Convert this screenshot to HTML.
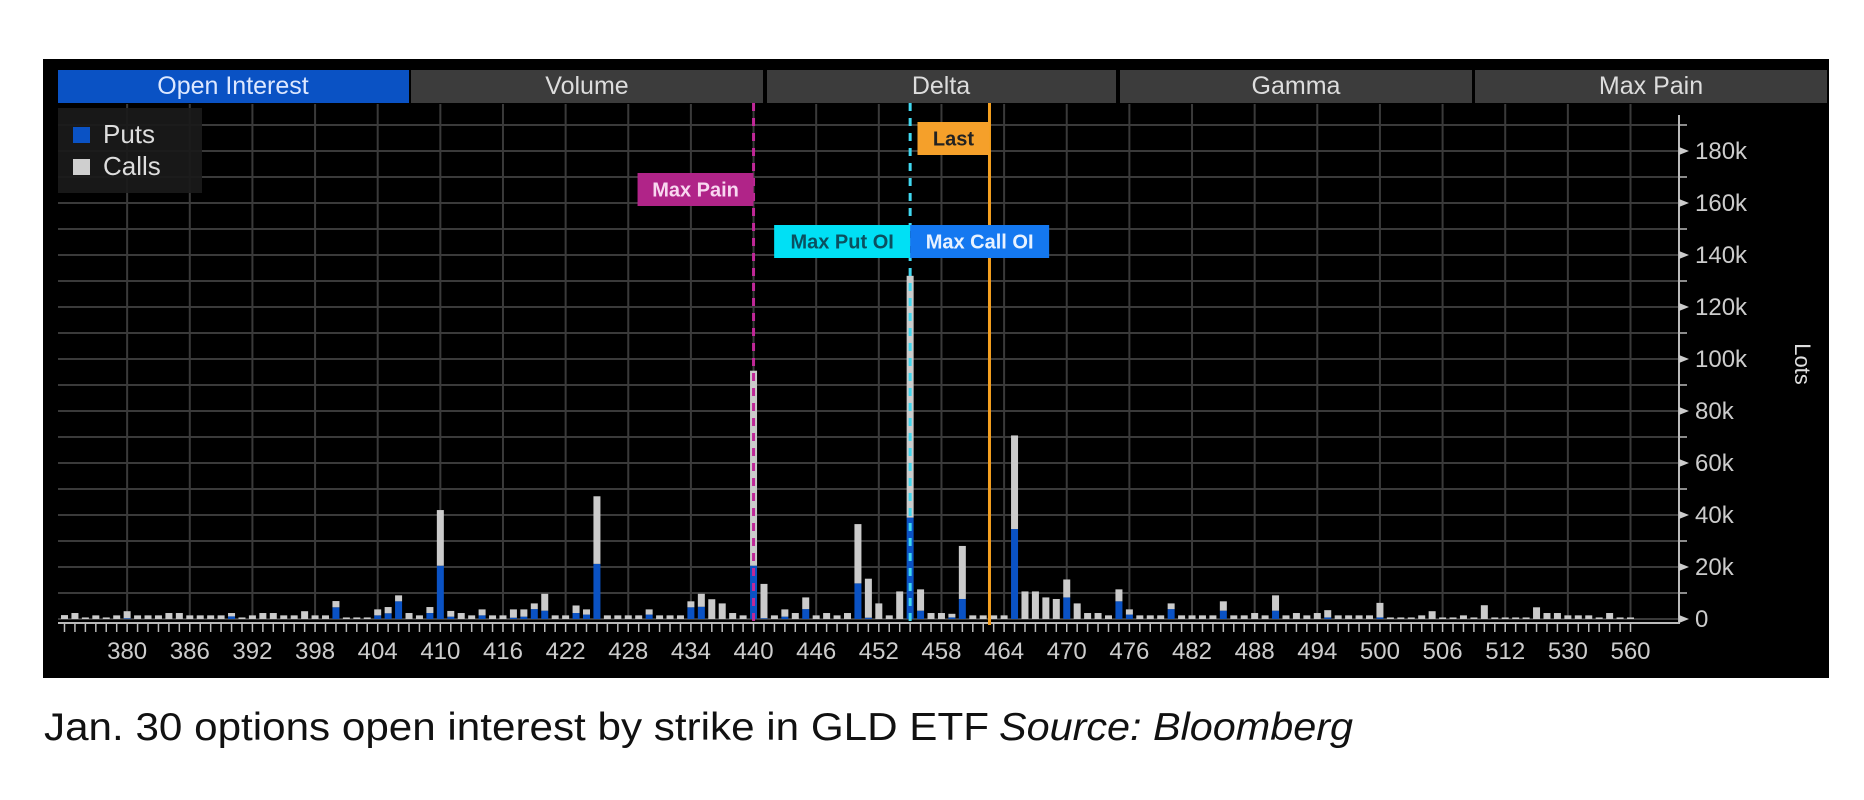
<!DOCTYPE html>
<html><head><meta charset="utf-8">
<style>
html,body{margin:0;padding:0;background:#fff;}
svg{display:block;}
text{font-family:"Liberation Sans Narrow","Liberation Sans",sans-serif;}
</style></head>
<body>
<svg id="chart" width="1864" height="800" viewBox="0 0 1864 800" xmlns="http://www.w3.org/2000/svg">
<rect x="0" y="0" width="1864" height="800" fill="#fff"/>
<rect x="43" y="59" width="1786" height="619" fill="#000"/>
<g id="tabs">
 <rect x="58" y="70" width="351" height="33" fill="#0a52c4"/>
 <text x="233" y="94" fill="#dde8ff" font-size="25" text-anchor="middle">Open Interest</text>
 <rect x="411" y="70" width="352" height="33" fill="#3c3c3c"/>
 <text x="587" y="94" fill="#ddd" font-size="25" text-anchor="middle">Volume</text>
 <rect x="767" y="70" width="349" height="33" fill="#3c3c3c"/>
 <text x="941" y="94" fill="#ddd" font-size="25" text-anchor="middle">Delta</text>
 <rect x="1120" y="70" width="352" height="33" fill="#3c3c3c"/>
 <text x="1296" y="94" fill="#ddd" font-size="25" text-anchor="middle">Gamma</text>
 <rect x="1475" y="70" width="352" height="33" fill="#3c3c3c"/>
 <text x="1651" y="94" fill="#ddd" font-size="25" text-anchor="middle">Max Pain</text>
</g>
<g id="grid"></g>
<g id="bars"></g>
<g id="axes"></g>
<g id="markers"></g>
<g>
 <rect x="58" y="108" width="144" height="85" fill="#1a1a1a" opacity="0.92"/>
 <rect x="73" y="127" width="17" height="16" fill="#0a52c4"/>
 <text x="103" y="143" fill="#ddd" font-size="26">Puts</text>
 <rect x="73" y="159" width="17" height="16" fill="#cfcfcf"/>
 <text x="103" y="175" fill="#ddd" font-size="26">Calls</text>
</g>
<text transform="translate(1795,364) rotate(90)" fill="#ddd" font-size="22" text-anchor="middle">Lots</text>
<text x="44" y="740" fill="#111" font-size="39" style="font-family:'Liberation Sans',sans-serif" textLength="945" lengthAdjust="spacingAndGlyphs">Jan. 30 options open interest by strike in GLD ETF</text>
<text x="999" y="740" fill="#111" font-size="39" font-style="italic" style="font-family:'Liberation Sans',sans-serif" textLength="354" lengthAdjust="spacingAndGlyphs">Source: Bloomberg</text>
</svg>
<script>
const strikes = [];
for (let s = 374; s <= 512; s++) strikes.push(s);
strikes.push(513,514,515,520,525,530,535,540,545,550,555,560);
const puts = [0,0,0,0,0,0,0.3,0,0,0,0,0,0,0,0,0,1,0,0,0,0,0,0,0,0,0,4.5,0,0,0,1.4,2.2,6.8,0,0,2.3,20.5,0.9,0,0,1.4,0,0,0.5,
0.9,3.8,3.2,0,0,2.3,1.7,21.2,0,0,0,0,1.7,0,0,0,4.5,4.7,0,0,0,0,20.5,0.3,0,0.9,0,3.8,0,0,0,0,13.7,0.5,0,0,0,39,3.2,0,0,0.6,7.7,0,0,0,
0,34.6,0,0,0,0,8.3,0,0,0,0,6.8,1.7,0,0,0,3.8,0,0,0,0,3.2,0,0,0,0,3.2,0,0,0,0,0.6,0,0,0,0,0.6,0,0,0,0,0,0,0,0,0,0,0,0,0,0,0,0,0,0,0,0,0,0,0,0];
const calls = [1.5,2.3,0.6,1.4,0.6,1.4,2.7,1.4,1.4,1.4,2.3,2.3,1.4,1.4,1.4,1.4,1.3,0.6,1.4,2.3,2.3,1.4,1.4,3,1.4,1.4,2.4,0.6,0.6,0.6,2.3,2.4,2.3,2.3,1.4,2.3,21.4,2.2,2.3,1.4,2.3,1.4,1.4,3.2,
2.8,2.2,6.5,1.4,1.4,2.9,2,26,1.4,1.4,1.4,1.4,2,1.4,1.4,1.4,2.3,5,7.6,6,2.3,1.4,75,13.2,1.4,2.8,2.3,4.5,1.4,2.3,1.4,2.3,22.8,15,6,1.4,10.6,93,8.2,2.3,2.3,1.4,20.4,1.4,1.4,1.4,
1.4,36,10.6,10.6,8.3,7.7,6.9,6,2.3,2.3,1.4,4.6,2,1.4,1.4,1.4,2.2,1.4,1.4,1.4,1.4,3.6,1.4,1.4,2.3,1.4,5.9,1.4,2.3,1.4,2.3,2.8,1.4,1.4,1.4,1.4,5.6,0.6,0.6,0.6,1.4,3,0.6,0.6,1.4,0.6,5.3,0.6,0.6,0.6,0.6,4.5,2.3,2.3,1.4,1.4,1.4,0.6,2.3,0.6,0.6];
const xTickLabels = [380,386,392,398,404,410,416,422,428,434,440,446,452,458,464,470,476,482,488,494,500,506,512,530,560];
const yTicks = [0,20,40,60,80,100,120,140,160,180];
const maxPainStrike = 440, maxPutStrike = 455, maxCallStrike = 455, lastPrice = 462.6;

const NS = 'http://www.w3.org/2000/svg';
const X0 = 64.5, STEP = 10.44, Y0 = 619, PXK = 2.6, TOP = 104, RIGHT = 1679;
function xIdx(i){ return X0 + i*STEP; }
function xStrike(s){
  let i = strikes.indexOf(s);
  if (i >= 0) return xIdx(i);
  for (let k=0;k<strikes.length-1;k++){
    if (s>strikes[k] && s<strikes[k+1]) return xIdx(k + (s-strikes[k])/(strikes[k+1]-strikes[k]));
  }
  return xIdx(0);
}
function y(v){ return Y0 - v*PXK; }
function mk(tag, attrs, parent){
  const e = document.createElementNS(NS, tag);
  for (const k in attrs) e.setAttribute(k, attrs[k]);
  parent.appendChild(e); return e;
}
const grid = document.getElementById('grid');
for (let v=0; v<=190; v+=10){
  const l = mk('line',{x1:58,x2:RIGHT,y1:y(v),y2:y(v),stroke:'#3a3a3a','stroke-width':2},grid);
  
  
}
xTickLabels.forEach(s=>{
  const l = mk('line',{x1:xStrike(s),x2:xStrike(s),y1:TOP,y2:Y0,stroke:'#3a3a3a','stroke-width':2},grid);
  
  
});
const bars = document.getElementById('bars');
strikes.forEach((s,i)=>{
  const cx = xIdx(i), w = 7;
  const p = puts[i]||0, c = calls[i]||0;
  if (p>0){
    const r = mk('rect',{x:cx-w/2,y:y(p),width:w,height:p*PXK,fill:'#0a52c4'},bars);
    
    
  }
  if (c>0){
    const r = mk('rect',{x:cx-w/2,y:y(p+c),width:w,height:c*PXK,fill:'#cbcbcb'},bars);
    
    
  }
});
const axes = document.getElementById('axes');
let a = mk('line',{x1:58,x2:RIGHT,y1:623,y2:623,stroke:'#bbb','stroke-width':2},axes);


a = mk('line',{x1:RIGHT,x2:RIGHT,y1:115,y2:624,stroke:'#bbb','stroke-width':2},axes);


strikes.forEach((s,i)=>{
  const t = mk('line',{x1:xIdx(i),x2:xIdx(i),y1:623,y2:632,stroke:'#bbb','stroke-width':1.5},axes);
  
  
});
xTickLabels.forEach(s=>{
  const t = mk('text',{x:xStrike(s),y:659,fill:'#ccc','font-size':24,'text-anchor':'middle'},axes);
  t.textContent = s;
  
  
});
for (let v=10; v<=190; v+=20){
  const t = mk('line',{x1:RIGHT,x2:RIGHT+8,y1:y(v),y2:y(v),stroke:'#bbb','stroke-width':1.5},axes);
  
  
}
yTicks.forEach(v=>{
  const yy = y(v);
  const tri = mk('polygon',{points:`${RIGHT},${yy-4} ${RIGHT+10},${yy} ${RIGHT},${yy+4}`,fill:'#ccc'},axes);
  
  
  const t = mk('text',{x:RIGHT+16,y:yy+8,fill:'#ccc','font-size':24},axes);
  t.textContent = v===0 ? '0' : v+'k';
  
  
});
const m = document.getElementById('markers');
function marker(xx, color, dash, name){
  const l = mk('line',{x1:xx,x2:xx,y1:103,y2:Y0+6,stroke:color,'stroke-width':3},m);
  if (dash) l.setAttribute('stroke-dasharray',dash);
  
  
}
function label(x1,x2,y1,y2,bg,fg,txt,name){
  const r = mk('rect',{x:x1,y:y1,width:x2-x1,height:y2-y1,fill:bg},m);
  
  
  const t = mk('text',{x:(x1+x2)/2,y:(y1+y2)/2+7,fill:fg,'font-size':20,'text-anchor':'middle','font-weight':'bold'},m);
  t.textContent = txt;
  
  
}
const xMP = xStrike(maxPainStrike), xPut = xStrike(maxPutStrike), xCall = xStrike(maxCallStrike), xLast = xStrike(lastPrice);
marker(xMP,'#c02898','8,7','max-pain-line');
marker(xPut,'#40d8f0','8,7','max-put-oi-line');
marker(xLast,'#f5a020',null,'last-price-line');
label(xLast-72,xLast,122,155,'#f5a02a','#222','Last','last-label');
label(xMP-116,xMP,173,206,'#b02488','#f8d8f0','Max Pain','max-pain-label');
label(xPut-136,xPut,225,258,'#00e0f5','#0a5060','Max Put OI','max-put-oi-label');
label(xCall,xCall+139,225,258,'#1478f0','#e8f2ff','Max Call OI','max-call-oi-label');
</script>
</body></html>
